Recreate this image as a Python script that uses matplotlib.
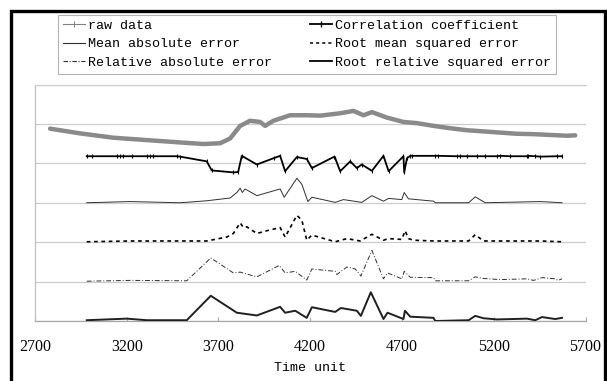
import matplotlib
matplotlib.use("Agg")
import matplotlib.pyplot as plt
from matplotlib.lines import Line2D
from matplotlib.patches import Rectangle

# ---------------- data (values are relative to each series' band baseline) ----------------
raw_t = [2782, 2945, 3127, 3309, 3491, 3618, 3709, 3763, 3818, 3872, 3927, 3954, 3999,
         4090, 4181, 4254, 4363, 4436, 4490, 4536, 4618, 4708, 4781, 4872, 4963, 5054,
         5144, 5235, 5327, 5417, 5508, 5599, 5644]
raw_v = [-0.12, -0.24, -0.35, -0.41, -0.47, -0.51, -0.49, -0.37, -0.05, 0.08, 0.05, -0.05, 0.08,
         0.22, 0.22, 0.21, 0.27, 0.33, 0.22, 0.30, 0.16, 0.05, 0.02, -0.05, -0.11, -0.16,
         -0.19, -0.22, -0.25, -0.26, -0.28, -0.30, -0.29]

cc_t = [2982, 3009, 3145, 3163, 3181, 3227, 3309, 3327, 3345, 3473, 3491, 3636, 3663, 3781,
        3807, 3827, 3909, 4000, 4036, 4063, 4127, 4181, 4209, 4327, 4336, 4363, 4418, 4454,
        4481, 4536, 4599, 4627, 4708, 4712, 4727, 4745, 4754, 4881, 4897, 4999, 5017, 5054,
        5108, 5154, 5218, 5235, 5290, 5381, 5388, 5426, 5454, 5545, 5572]
cc_v = [0.18, 0.18, 0.18, 0.18, 0.18, 0.18, 0.18, 0.18, 0.18, 0.18, 0.17, 0.05, -0.18, -0.23,
        -0.22, 0.19, -0.03, 0.13, 0.19, -0.20, 0.16, 0.11, -0.12, 0.16, 0.13, -0.20, 0.05, -0.12,
        -0.03, -0.19, 0.19, -0.20, 0.18, -0.23, 0.13, 0.19, 0.19, 0.19, 0.19, 0.18, 0.18, 0.18,
        0.18, 0.18, 0.18, 0.19, 0.18, 0.18, 0.19, 0.18, 0.17, 0.18, 0.18]

mae_t = [2982, 3218, 3491, 3636, 3763, 3800, 3818, 3830, 3845, 3909, 4036, 4058, 4127, 4154,
         4187, 4209, 4336, 4381, 4481, 4536, 4599, 4627, 4699, 4712, 4735, 4872, 4881, 5063,
         5099, 5154, 5454, 5572]
mae_v = [0.00, 0.03, 0.00, 0.05, 0.12, 0.26, 0.37, 0.26, 0.35, 0.18, 0.35, 0.14, 0.62, 0.47,
         0.03, 0.14, 0.01, 0.08, 0.01, 0.18, 0.04, 0.11, 0.08, 0.26, 0.10, 0.04, 0.00, 0.00,
         0.15, 0.00, 0.03, 0.00]

rmse_t = [2982, 3218, 3636, 3745, 3781, 3818, 3836, 3854, 3909, 3963, 4036, 4063, 4127, 4154,
          4181, 4209, 4336, 4400, 4472, 4536, 4599, 4627, 4699, 4717, 4735, 4763, 4872, 5063,
          5099, 5144, 5454, 5572]
rmse_v = [0.01, 0.03, 0.03, 0.13, 0.22, 0.49, 0.37, 0.39, 0.22, 0.29, 0.37, 0.13, 0.68, 0.56,
          0.05, 0.18, 0.01, 0.09, 0.03, 0.20, 0.05, 0.09, 0.07, 0.29, 0.09, 0.05, 0.03, 0.03,
          0.19, 0.03, 0.03, 0.01]

rae_t = [2982, 3218, 3527, 3658, 3781, 3818, 3909, 4031, 4063, 4118, 4181, 4209, 4336, 4345,
         4400, 4445, 4476, 4536, 4599, 4621, 4699, 4712, 4745, 4872, 4881, 5063, 5099, 5144,
         5235, 5381, 5417, 5463, 5535, 5550, 5572]
rae_v = [0.01, 0.03, 0.02, 0.60, 0.22, 0.24, 0.12, 0.41, 0.22, 0.26, 0.04, 0.32, 0.26, 0.18,
         0.37, 0.32, 0.14, 0.79, 0.07, 0.22, 0.07, 0.26, 0.11, 0.10, 0.02, 0.02, 0.12, 0.08,
         0.05, 0.07, 0.03, 0.10, 0.07, 0.03, 0.07]

rrse_t = [2982, 3200, 3309, 3527, 3658, 3800, 3909, 4036, 4063, 4118, 4181, 4209, 4336, 4367,
          4454, 4476, 4530, 4599, 4621, 4708, 4716, 4745, 4872, 4881, 5063, 5099, 5144, 5217,
          5306, 5381, 5426, 5463, 5535, 5572]
rrse_v = [0.02, 0.06, 0.02, 0.02, 0.64, 0.21, 0.14, 0.36, 0.21, 0.26, 0.08, 0.35, 0.23, 0.33,
          0.26, 0.13, 0.73, 0.05, 0.21, 0.05, 0.26, 0.11, 0.08, 0.00, 0.02, 0.13, 0.07, 0.04,
          0.05, 0.06, 0.02, 0.10, 0.05, 0.08]

labels = ["raw data", "Correlation coefficient", "Mean absolute error",
          "Root mean squared error", "Relative absolute error", "Root relative squared error"]
band_base = [5, 4, 3, 2, 1, 0]
x_ticks = [2700, 3200, 3700, 4200, 4700, 5200, 5700]

# ---------------- figure ----------------
W, H = 607, 381
fig = plt.figure(figsize=(W / 100, H / 100), dpi=100)
ax = fig.add_axes([35 / W, 1 - 321 / H, (585.5 - 35) / W, (321 - 84.5) / H])
ax.set_xlim(2700, 5700)
ax.set_ylim(0, 6)

styles = [
    dict(color="#8a8a8a", lw=3.2, solid_capstyle="round"),
    dict(color="black", lw=1.3, marker="|", ms=2.6, mew=0.8),
    dict(color="#303030", lw=0.7),
    dict(color="black", lw=1.2, linestyle=(0, (2.2, 2.2))),
    dict(color="#303030", lw=0.7, linestyle=(0, (5, 2, 1, 2))),
    dict(color="#202020", lw=1.4),
]
data = [(raw_t, raw_v), (cc_t, cc_v), (mae_t, mae_v), (rmse_t, rmse_v), (rae_t, rae_v), (rrse_t, rrse_v)]
for (t, v), base, st in zip(data, band_base, styles):
    ax.plot(t, [base + val for val in v], zorder=3, **st)

# grid / spines
ax.set_yticks([0, 1, 2, 3, 4, 5, 6])
ax.yaxis.grid(True, color="#cccccc", lw=0.9)
ax.set_axisbelow(True)
ax.tick_params(axis="y", length=0, labelleft=False)
ax.spines["right"].set_visible(False)
ax.spines["top"].set_color("#cccccc")
ax.spines["left"].set_color("#c0c0c0")
ax.spines["bottom"].set_color("#a8a8a8")
for s in ax.spines.values():
    s.set_linewidth(0.9)

ax.set_xticks(x_ticks)
ax.set_xticklabels([str(v) for v in x_ticks])
ax.tick_params(axis="x", direction="in", length=3, width=0.8, color="#a8a8a8", pad=13,
               labelsize=11.5)
for lab in ax.get_xticklabels():
    lab.set_family("Liberation Serif")

fig.text(310 / W, 1 - 368 / H, "Time unit", ha="center", va="center",
         family="Liberation Mono", size=9.6)

# legend
handles = [
    Line2D([], [], color="#808080", lw=0.8, marker="+", ms=4, mew=0.7),
    Line2D([], [], color="black", lw=1.3, marker="|", ms=4, mew=1.0),
    Line2D([], [], color="#303030", lw=0.8),
    Line2D([], [], color="black", lw=1.1, linestyle=(0, (2, 2))),
    Line2D([], [], color="#303030", lw=0.8, linestyle=(0, (4, 1.5, 1, 1.5))),
    Line2D([], [], color="black", lw=1.3),
]
order = [0, 2, 4, 1, 3, 5]
leg = fig.legend([handles[i] for i in order], [labels[i] for i in order], ncol=2,
                 loc="upper left", bbox_to_anchor=(58 / W, 1 - 14.7 / H),
                 bbox_transform=fig.transFigure,
                 prop={"family": "Liberation Mono", "size": 9.6},
                 handlelength=1.65, handletextpad=0.25, columnspacing=2.85,
                 labelspacing=0.48, borderpad=0.35, borderaxespad=0,
                 fancybox=False, frameon=True)
leg.get_frame().set_edgecolor("#a0a0a0")
leg.get_frame().set_linewidth(0.8)

# outer frame
fig.add_artist(Rectangle((10.5 / W, -0.05), (604.5 - 10.5) / W, 1 - 10.5 / H + 0.05,
                         transform=fig.transFigure, fill=False, ec="black", lw=2.4,
                         clip_on=False))

fig.savefig("out.png", dpi=100)
